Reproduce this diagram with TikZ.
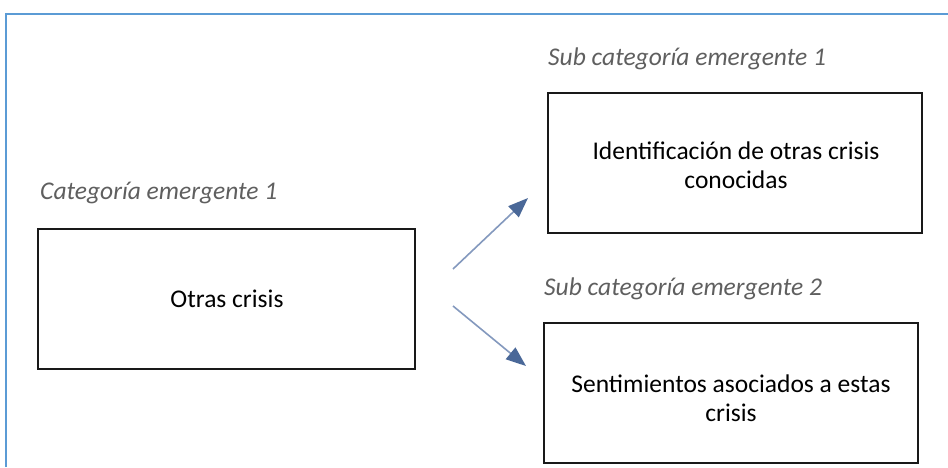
\documentclass[tikz,border=0pt]{standalone}
\usepackage{fontspec}
\setmainfont{Carlito}
\usetikzlibrary{arrows.meta}
\definecolor{framebl}{HTML}{5B9BD5}
\definecolor{labelgray}{HTML}{5F5F5F}
\definecolor{arrowln}{HTML}{8499BE}
\definecolor{arrowhd}{HTML}{4A6898}
\begin{document}
\begin{tikzpicture}[x=1pt,y=-1pt,
  catbox/.style={draw=black!90,line width=2.4pt},
  boxtext/.style={font=\fontsize{25.5}{28.5}\selectfont,text=black,align=center},
  catlabel/.style={font=\fontsize{25.5}{28}\selectfont\itshape,text=labelgray,anchor=base west,inner sep=0pt},
  link/.style={draw=arrowln,line width=1.6pt,-{Triangle[length=20pt,width=15pt,color=arrowhd]}}]
  \useasboundingbox (0,0) rectangle (948,467);
  \fill[white] (0,0) rectangle (948,467);
  % page frame (top and left edges)
  \draw[framebl,line width=2pt] (6,467) -- (6,14) -- (948,14);

  % boxes
  \draw[catbox] (38,229) rectangle (415,369);
  \draw[catbox] (548,93) rectangle (922,233);
  \draw[catbox] (544,323) rectangle (918,463);

  % box texts
  \node[boxtext] (main) at (227,299) {Otras crisis};
  \node[boxtext] (sub1) at (736,165) {Identificación de otras crisis\\conocidas};
  \node[boxtext] (sub2) at (731,398) {Sentimientos asociados a estas\\crisis};

  % category labels
  \node[catlabel] (lmain) at (40,199) {Categoría emergente 1};
  \node[catlabel] (lsub1) at (548,65) {Sub categoría emergente 1};
  \node[catlabel] (lsub2) at (544,295) {Sub categoría emergente 2};

  % connectors
  \coordinate (a1s) at (453,269);
  \coordinate (a1e) at (528,198);
  \coordinate (a2s) at (453,306);
  \coordinate (a2e) at (526,366);
  \draw[link] (a1s) -- (a1e);
  \draw[link] (a2s) -- (a2e);
\end{tikzpicture}
\end{document}
